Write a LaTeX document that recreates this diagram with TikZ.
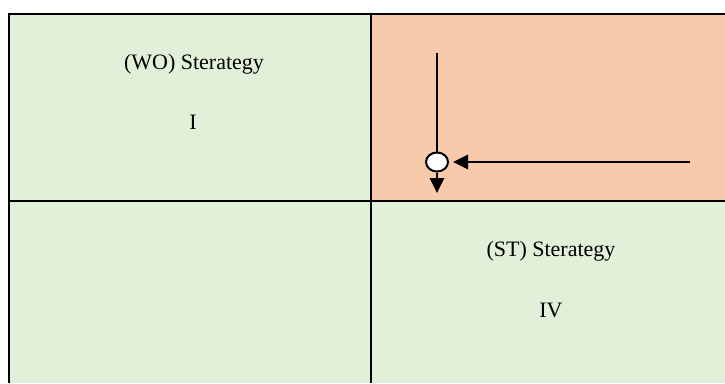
\documentclass[tikz,border=0pt]{standalone}
\usepackage{fontspec}
\setmainfont{Liberation Serif}
\usetikzlibrary{arrows.meta,shapes.geometric}
\definecolor{cellgreen}{HTML}{E2EFD9}
\definecolor{cellorange}{HTML}{F7CAAC}
\tikzset{
  gridline/.style={line width=2pt,black},
  flow/.style={line width=2.7pt,black},
  tip/.style={-{Triangle[length=15pt,width=14pt]}},
  label/.style={font=\fontsize{22}{26}\selectfont,anchor=base,inner sep=0pt},
  junction/.style={ellipse,draw,fill=white,line width=2pt,minimum width=22pt,minimum height=19pt,inner sep=0pt}
}
\begin{document}
\begin{tikzpicture}[x=1pt,y=-1pt]
\useasboundingbox (0,0) rectangle (725,383);
% cells
\fill[cellgreen] (9,14) rectangle (371,201);
\fill[cellorange] (371,14) rectangle (725,201);
\fill[cellgreen] (9,201) rectangle (371,383);
\fill[cellgreen] (371,201) rectangle (725,383);
% grid lines
\draw[gridline] (9,14) -- (725,14);
\draw[gridline] (9,201) -- (725,201);
\draw[gridline] (9,13) -- (9,383);
\draw[gridline] (371,13) -- (371,383);
% texts
\node[label] (wo) at (194,69) {(WO) Sterategy};
\node[label] (one) at (193,129) {I};
\node[label] (st) at (551,256) {(ST) Sterategy};
\node[label] (four) at (551,317) {IV};
% flow
\node[junction] (c) at (437,162) {};
\coordinate (vtop) at (437,53);
\coordinate (vend) at (437,193);
\coordinate (hstart) at (690,162);
\draw[flow] (vtop) -- (c.north);
\draw[flow,tip] (c.south) -- (vend);
\draw[flow,tip,shorten >=4pt] (hstart) -- (c.east);
\end{tikzpicture}
\end{document}
